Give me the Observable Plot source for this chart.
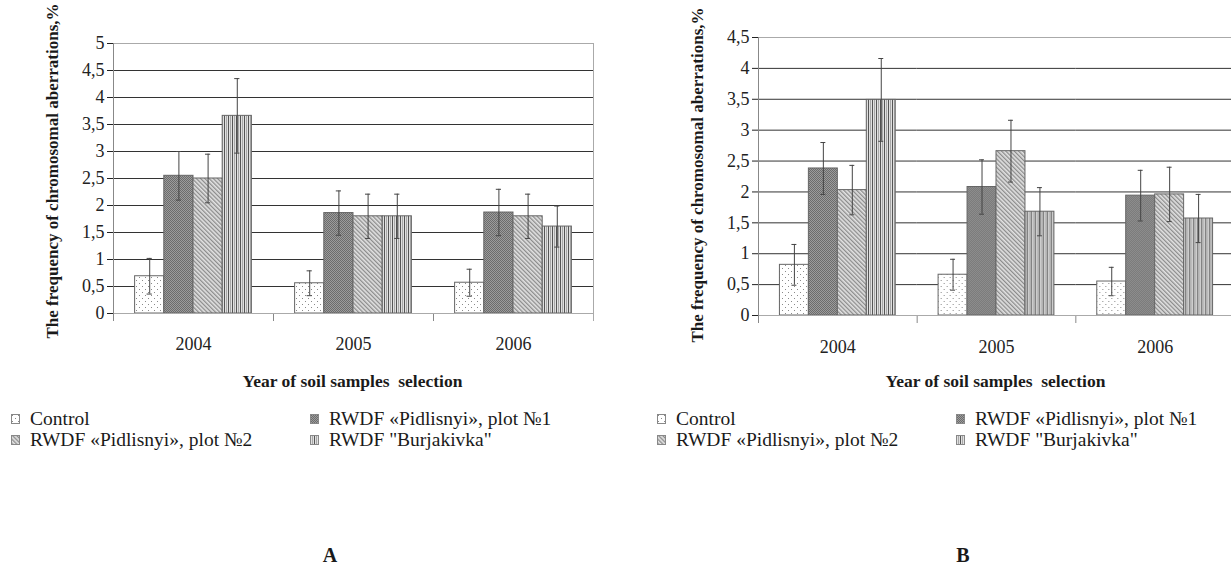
<!DOCTYPE html>
<html><head><meta charset="utf-8">
<script src="https://cdn.jsdelivr.net/npm/d3@7"></script>
<script src="https://cdn.jsdelivr.net/npm/@observablehq/plot@0.6"></script>
<style>
html,body{margin:0;padding:0;background:#fff;}
#wrap{position:relative;width:1231px;height:566px;overflow:hidden;font-family:"Liberation Serif","Times New Roman",serif;color:#1a1a1a;}
.panel{position:absolute;top:0;}
.panel svg{max-width:none !important;}
.ytitle{position:absolute;transform:translate(-50%,-50%) rotate(-90deg);white-space:nowrap;font-weight:bold;font-size:17px;line-height:17px;}
.xtitle{position:absolute;transform:translate(-50%,-50%);white-space:pre;font-weight:bold;font-size:17.5px;line-height:18px;}
.item{position:absolute;white-space:nowrap;display:flex;align-items:center;font-size:19.5px;line-height:21px;height:21px;}
.item svg{margin-right:10px;display:block}
.tag{position:absolute;font-weight:bold;font-size:20px;line-height:20px;transform:translateX(-50%);}
</style></head>
<body>
<svg width="0" height="0" style="position:absolute">
 <defs>
  <pattern id="pCtrl" width="6" height="6" patternUnits="userSpaceOnUse">
   <rect width="6" height="6" fill="#fff"/>
   <rect x="1" y="1" width="1" height="1" fill="#8a8a8a"/>
   <rect x="4" y="4" width="1" height="1" fill="#8a8a8a"/>
  </pattern>
  <pattern id="pP1" width="2" height="2" patternUnits="userSpaceOnUse">
   <rect width="2" height="2" fill="#9c9c9c"/>
   <rect width="1" height="1" fill="#6c6c6c"/>
   <rect x="1" y="1" width="1" height="1" fill="#6c6c6c"/>
  </pattern>
  <pattern id="pP2" width="3" height="3" patternUnits="userSpaceOnUse" patternTransform="rotate(-45)">
   <rect width="3" height="3" fill="#e2e2e2"/>
   <rect width="1.3" height="3" fill="#8c8c8c"/>
  </pattern>
  <pattern id="pBurj" width="4" height="4" patternUnits="userSpaceOnUse">
   <rect width="4" height="4" fill="#e0e0e0"/>
   <rect width="1" height="4" fill="#555"/>
   <rect x="2" width="1" height="4" fill="#a8a8a8"/>
  </pattern>
 </defs>
</svg>
<div id="wrap"></div>
<script>
// ---- data ----
const years = ["2004", "2005", "2006"];
const series = ["Control", "RWDF «Pidlisnyi», plot №1", "RWDF «Pidlisnyi», plot №2", "RWDF \"Burjakivka\""];
// panel A: means per year (rows) and series (columns)
const valuesA = [[0.69, 2.55, 2.50, 3.66], [0.56, 1.86, 1.80, 1.80], [0.57, 1.87, 1.80, 1.61]];
const errorsA = [[0.33, 0.45, 0.45, 0.69], [0.23, 0.41, 0.41, 0.41], [0.25, 0.43, 0.41, 0.38]];
// panel B
const valuesB = [[0.82, 2.38, 2.03, 3.49], [0.66, 2.08, 2.66, 1.68], [0.55, 1.94, 1.96, 1.57]];
const errorsB = [[0.33, 0.42, 0.40, 0.67], [0.25, 0.44, 0.50, 0.39], [0.23, 0.41, 0.44, 0.39]];
const yTicksA = [0, 0.5, 1, 1.5, 2, 2.5, 3, 3.5, 4, 4.5, 5];
const yTicksB = [0, 0.5, 1, 1.5, 2, 2.5, 3, 3.5, 4, 4.5];
const yTitle = "The frequency of chromosomal aberrations,%";
const xTitle = "Year of soil samples  selection";
const panelTags = ["A", "B"];
const fills = ["url(#pCtrl)", "url(#pP1)", "url(#pP2)", "url(#pBurj)"];

const fmt = d => String(d).replace(".", ",");
const wrap = document.getElementById("wrap");

function panel(vals, errs, yTicks, d) {
  const rows = years.flatMap((y, i) => series.map((s, j) => ({year: y, series: s, value: vals[i][j], err: errs[i][j]})));
  const plotH = d.height - d.mt - d.mb;
  const hi = r => r.value + r.err, lo = r => r.value - r.err;
  const svg = Plot.plot({
    width: d.width, height: d.height,
    marginLeft: d.ml, marginRight: d.mr, marginTop: d.mt, marginBottom: d.mb,
    style: {fontFamily: "'Liberation Serif','Times New Roman',serif", fontSize: "18px", color: "#222", background: "transparent", overflow: "visible", maxWidth: "none"},
    facet: {data: rows, x: "year", label: null},
    fx: {domain: years, padding: 0, round: false, tickSize: 0, tickPadding: d.tp, label: null},
    x: {domain: series, paddingInner: 0, paddingOuter: 0.74, round: false, axis: null},
    y: {domain: [0, yTicks[yTicks.length - 1]], ticks: yTicks, tickFormat: fmt, tickSize: 6, label: null},
    color: {type: "ordinal", domain: series, range: fills},
    marks: [
      Plot.gridY(yTicks.slice(1, -1), {stroke: "#333", strokeOpacity: 1}),
      Plot.barY(rows, {x: "series", y: "value", fill: "series", stroke: "#666", strokeWidth: 1}),
      Plot.ruleX(rows, {x: "series", y1: lo, y2: hi, stroke: "#444"}),
      Plot.tickY(rows, {x: "series", y: hi, insetLeft: 12, insetRight: 12, stroke: "#444"}),
      Plot.tickY(rows, {x: "series", y: lo, insetLeft: 12, insetRight: 12, stroke: "#444"}),
      Plot.ruleY([0], {stroke: "#888"}),
      Plot.frame({anchor: "left", insetTop: plotH, insetBottom: -7, stroke: "#888"}),
      Plot.frame({facet: "super", stroke: "#aaa"}),
      Plot.frame({facet: "super", anchor: "left", insetBottom: -7, stroke: "#888"}),
      Plot.frame({facet: "super", anchor: "right", insetBottom: -7, stroke: "#aaa"})
    ]
  });
  svg.style.maxWidth = "none";
  const div = document.createElement("div");
  div.className = "panel";
  div.style.left = d.left + "px";
  div.style.width = d.width + "px";
  div.appendChild(svg);
  wrap.appendChild(div);
}

panel(valuesA, errorsA, yTicksA, {left: 0, width: 603, height: 360, ml: 113, mr: 10, mt: 43, mb: 47, tp: 24});
panel(valuesB, errorsB, yTicksB, {left: 640, width: 604, height: 360, ml: 118, mr: 10, mt: 37, mb: 45, tp: 25});

function addDiv(cls, text, x, y) {
  const el = document.createElement("div");
  el.className = cls; el.textContent = text;
  el.style.left = x + "px"; el.style.top = y + "px";
  wrap.appendChild(el); return el;
}
addDiv("ytitle", yTitle, 52, 171);
addDiv("ytitle", yTitle, 697, 175);
addDiv("xtitle", xTitle, 352.5, 381);
addDiv("xtitle", xTitle, 995.5, 381);
addDiv("tag", panelTags[0], 330, 544.5);
addDiv("tag", panelTags[1], 963, 544.5);

function legend(x0) {
  const cols = [x0, x0 + 299];
  series.forEach((s, i) => {
    const el = document.createElement("div");
    el.className = "item";
    el.style.left = cols[i % 2] + "px";
    el.style.top = (408 + Math.floor(i / 2) * 21) + "px";
    el.innerHTML = `<svg width="9" height="10"><rect x="0.5" y="0.5" width="8" height="9" fill="${fills[i]}" stroke="#888"/></svg>`;
    el.appendChild(document.createTextNode(s));
    wrap.appendChild(el);
  });
}
legend(11);
legend(657);
</script>
</body></html>
